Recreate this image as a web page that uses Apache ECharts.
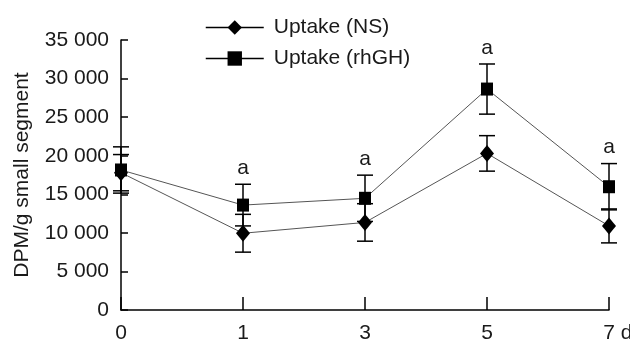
<!DOCTYPE html>
<html>
<head>
<meta charset="utf-8">
<script src="https://cdn.jsdelivr.net/npm/echarts@6/dist/echarts.min.js"></script>
<style>
  html, body { margin: 0; padding: 0; background: #fff; }
  #chart { width: 630px; height: 343px; }
</style>
</head>
<body>
<div id="chart"></div>
<script>
// data
var days = ['0', '1', '3', '5', '7'];
var uptakeNS = [17800, 9950, 11350, 20300, 10900];
var errNS = [2350, 2450, 2430, 2300, 2200];
var uptakeGH = [18150, 13600, 14480, 28640, 15980];
var errGH = [3000, 2700, 3000, 3250, 3000];
var marks = ['', 'a', 'a', 'a', 'a'];
var yTicks = [0, 35000, 5000]; // min, max, step

var font = 'Liberation Sans, Arial, sans-serif';
var chart = echarts.init(document.getElementById('chart'));

// error bars (+ the "a" marks above the rhGH bars)
function errBars(vals, errs, flags) {
    var data = vals.map(function (v, i) { return [i, v - errs[i], v + errs[i], flags ? flags[i] : '']; });
    return {
        type: 'custom',
        z: 1,
        silent: true,
        data: data,
        renderItem: function (params, api) {
            var x = api.coord([api.value(0), 0])[0];
            var lo = api.coord([api.value(0), api.value(1)])[1];
            var hi = api.coord([api.value(0), api.value(2)])[1];
            var st = { stroke: '#000', lineWidth: 1.5 };
            var kids = [
                { type: 'line', shape: { x1: x, y1: lo, x2: x, y2: hi }, style: st },
                { type: 'line', shape: { x1: x - 8, y1: lo, x2: x + 8, y2: lo }, style: st },
                { type: 'line', shape: { x1: x - 8, y1: hi, x2: x + 8, y2: hi }, style: st }
            ];
            var f = data[params.dataIndex][3];
            if (f) {
                kids.push({ type: 'text', style: { text: f, x: x, y: hi - 16, align: 'center', verticalAlign: 'middle',
                    font: '21px ' + font, fill: '#1a1a1a' } });
            }
            return { type: 'group', children: kids };
        }
    };
}

var option = {
    animation: false,
    textStyle: { fontFamily: font },
    grid: { left: 121, right: 21, top: 40, bottom: 33, outerBoundsMode: 'none', containLabel: false },
    legend: {
        orient: 'vertical',
        left: 205,
        top: 17,
        padding: 0,
        itemWidth: 58,
        itemHeight: 18,
        itemGap: 10,
        lineStyle: { color: '#000', width: 1.5 },
        textStyle: { fontSize: 21, color: '#1a1a1a', lineHeight: 20, padding: [0, 0, 0, 5] },
        data: ['Uptake (NS)', 'Uptake (rhGH)']
    },
    xAxis: {
        type: 'category',
        data: days,
        boundaryGap: false,
        name: 'd',
        nameLocation: 'end',
        nameGap: 10,
        nameTextStyle: { fontSize: 21, color: '#1a1a1a', verticalAlign: 'top', padding: [13, 0, 0, 0] },
        axisLine: { lineStyle: { color: '#000', width: 1.5 } },
        axisTick: { inside: true, length: 13, lineStyle: { color: '#000', width: 1.5 }, alignWithLabel: true },
        axisLabel: { fontSize: 21, color: '#1a1a1a', margin: 13 },
        splitLine: { show: false }
    },
    yAxis: {
        type: 'value',
        min: yTicks[0],
        max: yTicks[1],
        interval: yTicks[2],
        name: 'DPM/g small segment',
        nameLocation: 'middle',
        nameGap: 88,
        nameTextStyle: { fontSize: 21, color: '#1a1a1a' },
        axisLine: { show: true, lineStyle: { color: '#000', width: 1.5 } },
        axisTick: { show: true, inside: true, length: 7, lineStyle: { color: '#000', width: 1.5 } },
        axisLabel: {
            fontSize: 21, color: '#1a1a1a', margin: 12,
            formatter: function (v) { return String(v).replace(/\B(?=(\d{3})+(?!\d))/g, ' '); }
        },
        splitLine: { show: false }
    },
    series: [
        errBars(uptakeNS, errNS),
        errBars(uptakeGH, errGH, marks),
        {
            name: 'Uptake (NS)',
            type: 'line',
            z: 3,
            data: uptakeNS,
            symbol: 'diamond',
            symbolSize: [14, 17],
            itemStyle: { color: '#000' },
            lineStyle: { color: '#555', width: 1 }
        },
        {
            name: 'Uptake (rhGH)',
            type: 'line',
            z: 3,
            data: uptakeGH,
            symbol: 'rect',
            symbolSize: [12, 13],
            itemStyle: { color: '#000' },
            lineStyle: { color: '#555', width: 1 }
        }
    ]
};
chart.setOption(option);
</script>
</body>
</html>
